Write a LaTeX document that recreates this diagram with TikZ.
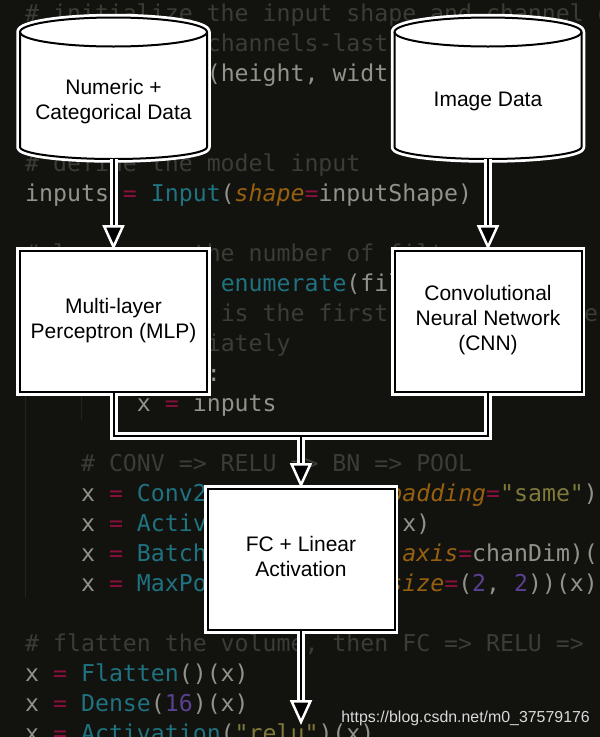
\documentclass[tikz,border=0pt]{standalone}
\usepackage{fontspec}
\setmainfont{Liberation Sans}
\newfontfamily\codefont{DejaVu Sans Mono}
\usetikzlibrary{arrows.meta}
\definecolor{bgc}{HTML}{12120F}
\definecolor{cmt}{HTML}{3C3C36}
\definecolor{txt}{HTML}{92928A}
\definecolor{pnk}{HTML}{8A0F3D}
\definecolor{tel}{HTML}{1F7280}
\definecolor{org}{HTML}{96600F}
\definecolor{pur}{HTML}{5A4090}
\definecolor{str}{HTML}{7F7A3A}
\definecolor{guide}{HTML}{24241F}
\newcounter{codeno}
\newcommand\cod[3]{\stepcounter{codeno}\node[codetext,name=code\thecodeno] at ({25+#1*13.97},{#2-1}) {#3};}
\newcommand\pk[1]{\textcolor{pnk}{#1}}
\newcommand\tl[1]{\textcolor{tel}{#1}}
\newcommand\og[1]{\textcolor{org}{\itshape #1}}
\newcommand\pu[1]{\textcolor{pur}{#1}}
\newcommand\sr[1]{\textcolor{str}{#1}}
\newcommand\cm[1]{\textcolor{cmt}{#1}}
\newcommand\drum[1]{%
  \begin{scope}[shift={(#1,0)}]
    \def\drumpath{(-93.5,32) .. controls (-93.5,24) and (-51.6,17.5) .. (0,17.5) .. controls (51.6,17.5) and (93.5,24) .. (93.5,32) -- (93.5,147) .. controls (93.5,153.6) and (51.6,159) .. (0,159) .. controls (-51.6,159) and (-93.5,153.6) .. (-93.5,147) -- cycle}
    \draw[white,line width=7.5pt,line join=round] \drumpath;
    \draw[black,fill=white,line width=2pt] \drumpath;
    \draw[black,line width=2pt] (-93.5,32) .. controls (-93.5,40) and (-51.6,46.5) .. (0,46.5) .. controls (51.6,46.5) and (93.5,40) .. (93.5,32);
  \end{scope}}
\tikzset{
  x=1pt,y=-1pt,
  codetext/.style={anchor=base west,inner sep=0pt,font=\codefont\fontsize{23.2}{23.2}\selectfont,text=txt},
  lbl/.style={align=center,inner sep=0pt,font=\fontsize{21}{25}\selectfont,text=black},
  boxnode/.style={draw=black,fill=white,line width=2pt,minimum width=187pt,minimum height=141pt,inner sep=0pt,
    preaction={draw=white,line width=7.5pt,rounded corners=1.5pt}},
  drumnode/.style={lbl,minimum width=187pt,minimum height=115pt},
  wire/.style={draw=white,line width=8pt},
  wirehead/.style={wire,shorten >=20pt},
  core/.style={draw=black,line width=2pt},
  corehead/.style={core,-{Triangle[length=25pt,width=22pt,line width=2.5pt,color=white,fill=black]}},
}
\begin{document}
\begin{tikzpicture}
\useasboundingbox (0,0) rectangle (600,737);
\fill[bgc] (0,0) rectangle (600,737);
\draw[guide,line width=1pt] (25,270) -- (25,597);
\draw[guide,line width=1pt] (81,390) -- (81,420);
% code
\cod{0}{22}{\cm{\# initialize the input shape and channel d}}
\cod{13}{52}{\cm{channels-last}}
\cod{13}{82}{(height, widt}
\cod{0}{172}{\cm{\# define the model input}}
\cod{0}{202}{inputs \pk{=} \tl{Input}(\og{shape}\pk{=}inputShape)}
\cod{0}{262}{\cm{\# loop over the number of filters}}
\cod{14}{292}{\tl{enumerate}(fil}
\cod{14}{322}{\cm{is the first}}
\cod{40}{322}{\cm{e}}
\cod{13}{352}{\cm{iately}}
\cod{13}{382}{:}
\cod{8}{412}{x \pk{=} inputs}
\cod{4}{472}{\cm{\# CONV => RELU => BN => POOL}}
\cod{4}{502}{x \pk{=} \tl{Conv2}}
\cod{26}{502}{\og{padding}\pk{=}\sr{"same"})}
\cod{4}{532}{x \pk{=} \tl{Activ}}
\cod{27}{532}{x)}
\cod{4}{562}{x \pk{=} \tl{Batch}}
\cod{27}{562}{\og{axis}\pk{=}chanDim)(}
\cod{4}{592}{x \pk{=} \tl{MaxPo}}
\cod{26}{592}{\og{size}\pk{=}(\pu{2}, \pu{2}))(x)}
\cod{0}{652}{\cm{\# flatten the volume, then FC => RELU => }}
\cod{0}{682}{x \pk{=} \tl{Flatten}()(x)}
\cod{0}{712}{x \pk{=} \tl{Dense}(\pu{16})(x)}
\cod{0}{742}{x \pk{=} \tl{Activation}(\sr{"relu"})(x)}
% shapes
\drum{113.5}
\drum{488}
\node[drumnode] (numeric) at (113.5,101.5) {Numeric +\\Categorical Data};
\node[drumnode] (image) at (488,101.5) {Image Data};
\node[boxnode,label={[lbl,name=mlptext,yshift=1pt]center:Multi-layer\\Perceptron (MLP)}] (mlp) at (113.5,321.5) {};
\node[boxnode,label={[lbl,name=cnntext,yshift=1pt]center:Convolutional\\Neural Network\\(CNN)}] (cnn) at (488,321.5) {};
\node[boxnode,label={[lbl,name=fctext,yshift=3pt]center:FC + Linear\\Activation}] (fc) at (301,559.5) {};
\coordinate (merge) at (301,436);
\coordinate (output) at (301,725);
% connectors
\draw[wirehead] (numeric.south) -- (mlp.north);
\draw[corehead] (numeric.south) -- (mlp.north);
\draw[wirehead] (image.south) -- (cnn.north);
\draw[corehead] (image.south) -- (cnn.north);
\draw[wire] (mlp.south) |- (merge) -| (cnn.south);
\draw[wirehead] (merge) -- (fc.north);
\draw[core] (mlp.south) |- (merge) -| (cnn.south);
\draw[corehead] (merge) -- (fc.north);
\draw[wirehead] (fc.south) -- (output);
\draw[corehead] (fc.south) -- (output);
\node[anchor=base east,inner sep=0pt,font=\fontsize{15.9}{18}\selectfont,text=white!85!black] (url) at (590,722) {https://blog.csdn.net/m0\_37579176};
\end{tikzpicture}
\end{document}
